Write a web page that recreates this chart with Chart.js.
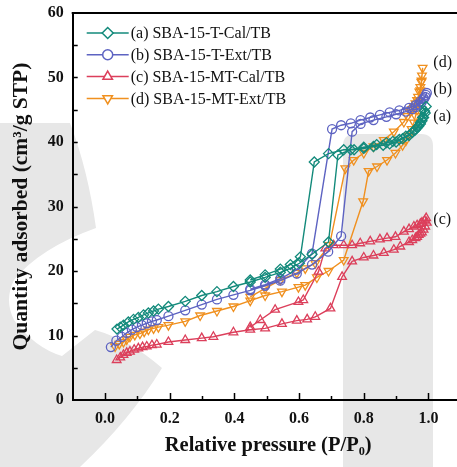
<!DOCTYPE html>
<html><head><meta charset="utf-8">
<script src="https://cdn.jsdelivr.net/npm/chart.js@4.4.1/dist/chart.umd.min.js"></script>
<style>
html,body{margin:0;padding:0;background:#fff;overflow:hidden;width:457px;height:467px}
#c{position:absolute;left:0;top:0}
</style>
</head><body><canvas id="c" width="470" height="467"></canvas>
<script>
// ---- data (P/P0, quantity adsorbed) ; adsorption branch then desorption branch ----
const seriesLabels = ['(a) SBA-15-T-Cal/TB','(b) SBA-15-T-Ext/TB','(c) SBA-15-MT-Cal/TB','(d) SBA-15-MT-Ext/TB'];
const endLabels = ['(a)','(b)','(c)','(d)'];

const pA = [0.037,0.047,0.057,0.072,0.088,0.103,0.119,0.134,0.150,0.165,0.196,0.248,0.299,0.346,0.397,0.449,0.495,0.542,0.573,0.601,0.640,0.691,0.720,0.760,0.800,0.840,0.870,0.890,0.910,0.930,0.950,0.958,0.965,0.970,0.975,0.980,0.985,0.990,0.993,
            0.988,0.982,0.975,0.968,0.960,0.950,0.940,0.920,0.900,0.880,0.860,0.830,0.800,0.770,0.738,0.691,0.647,0.604,0.573,0.542,0.495,0.449];
const vA = [11.0,11.3,11.6,12.1,12.5,12.8,13.2,13.5,13.8,14.1,14.5,15.3,16.2,16.8,17.6,18.3,19.0,19.8,20.4,21.2,22.6,24.5,38.0,38.8,39.2,39.6,39.9,40.1,40.4,40.9,41.5,41.8,42.2,42.5,42.8,43.3,43.8,44.5,45.5,
            44.8,43.8,43.0,42.4,42.0,41.5,41.0,40.5,40.0,39.7,39.5,39.3,39.0,38.8,38.8,38.2,36.9,22.2,21.0,20.3,19.4,18.6];

const pB = [0.018,0.035,0.052,0.067,0.083,0.098,0.114,0.129,0.145,0.160,0.196,0.248,0.299,0.346,0.397,0.449,0.495,0.542,0.593,0.640,0.690,0.730,0.764,0.790,0.830,0.870,0.900,0.930,0.950,0.960,0.970,0.978,0.985,0.990,0.995,
            0.992,0.985,0.975,0.960,0.940,0.910,0.880,0.850,0.820,0.790,0.760,0.730,0.702,0.640,0.593,0.542,0.495,0.449];
const vB = [8.2,9.2,9.8,10.4,10.9,11.3,11.6,11.9,12.2,12.4,13.0,13.9,14.8,15.6,16.3,17.0,17.7,18.5,19.6,21.0,23.0,25.4,41.6,42.8,43.4,43.9,44.3,44.7,45.1,45.4,45.8,46.1,46.6,47.0,47.6,
            47.3,46.8,46.3,45.7,45.3,44.9,44.6,44.2,43.8,43.4,42.9,42.6,42.0,22.7,20.2,18.8,17.9,17.2];

const pC = [0.036,0.047,0.057,0.067,0.077,0.090,0.103,0.116,0.129,0.145,0.160,0.196,0.248,0.299,0.335,0.397,0.449,0.495,0.547,0.593,0.625,0.650,0.697,0.733,0.764,0.800,0.830,0.862,0.893,0.913,0.940,0.950,0.960,0.965,0.970,0.975,0.980,0.985,0.990,0.995,
            0.993,0.988,0.980,0.975,0.965,0.955,0.940,0.924,0.898,0.872,0.850,0.820,0.789,0.764,0.738,0.707,0.681,0.660,0.613,0.598,0.526,0.480,0.449];
const vC = [6.2,6.6,7.0,7.3,7.5,7.8,8.0,8.2,8.3,8.5,8.6,9.0,9.3,9.6,9.8,10.5,10.9,11.1,11.8,12.3,12.5,12.9,14.2,19.1,21.5,22.1,22.4,22.8,23.3,23.8,24.5,24.8,25.1,25.3,25.6,25.8,26.0,26.4,26.9,27.5,
            28.2,27.8,27.5,27.3,27.1,26.9,26.5,26.1,25.3,25.1,24.9,24.6,24.3,24.0,24.0,24.0,23.5,19.9,15.5,15.2,14.0,12.4,11.3];

const pD = [0.031,0.044,0.057,0.067,0.077,0.092,0.108,0.121,0.134,0.150,0.165,0.196,0.248,0.294,0.346,0.397,0.449,0.495,0.547,0.598,0.619,0.655,0.691,0.738,0.798,0.815,0.841,0.872,0.898,0.920,0.930,0.940,0.948,0.955,0.960,0.965,0.970,0.975,0.979,0.982,
            0.980,0.978,0.975,0.972,0.968,0.965,0.960,0.955,0.950,0.944,0.935,0.924,0.893,0.862,0.830,0.800,0.769,0.743,0.694,0.650,0.619,0.593,0.542,0.495,0.449];
const vD = [8.3,8.7,9.0,9.4,9.8,10.1,10.3,10.6,10.9,11.1,11.3,11.6,12.2,13.1,13.8,14.5,15.4,16.2,16.8,17.5,17.8,19.0,20.0,21.7,30.8,35.5,36.2,37.2,38.3,39.5,40.2,41.0,42.0,43.0,44.0,45.0,46.3,48.0,49.5,51.5,
            50.3,49.3,48.5,47.8,47.0,46.5,46.0,45.5,45.1,44.7,44.0,43.1,41.6,40.3,39.3,38.3,37.2,35.9,24.0,21.2,20.4,19.7,18.6,17.3,16.0];

const xTickValues = [0.0,0.2,0.4,0.6,0.8,1.0];
const yTickValues = [0,10,20,30,40,50,60];

// ---- styles ----
const colors = ['#138a7b','#5d63c2','#dc3f5b','#f0901f'];
const styles = ['rectRot','circle','triangle','triangle'];
const rotations = [0,0,0,180];
const radii = [5,4.5,5,5];
const labelDy = [10,-3,-3,-5];
const serif = "'Liberation Serif','Times New Roman',serif";

const pts = (p,v) => p.map((x,i)=>({x:x,y:v[i]}));
const allP = [pA,pB,pC,pD], allV = [vA,vB,vC,vD];

const datasets = allP.map((p,i)=>({
  label: seriesLabels[i],
  data: pts(p, allV[i]),
  showLine: true,
  borderColor: colors[i],
  backgroundColor: 'rgba(0,0,0,0)',
  borderWidth: 1.4,
  pointStyle: styles[i],
  pointRotation: rotations[i],
  pointRadius: radii[i],
  pointBorderWidth: 1.3,
  pointBorderColor: colors[i],
  pointBackgroundColor: 'rgba(0,0,0,0)',
  tension: 0
}));

// faint watermark shapes behind the chart (decoration of the source image)
const watermark = {
  id:'watermark',
  beforeDraw(chart){
    const ctx = chart.ctx;
    ctx.save();
    ctx.fillStyle = '#e7e7e7';
    // right rounded bar
    const x0=343,y0=134,w=90,h=340,r=12;
    ctx.beginPath();
    ctx.moveTo(x0+r,y0);ctx.lineTo(x0+w-r,y0);ctx.quadraticCurveTo(x0+w,y0,x0+w,y0+r);
    ctx.lineTo(x0+w,y0+h);ctx.lineTo(x0,y0+h);ctx.lineTo(x0,y0+r);ctx.quadraticCurveTo(x0,y0,x0+r,y0);
    ctx.fill();
    // left shape with white notch
    ctx.beginPath();
    ctx.moveTo(0,123);
    ctx.lineTo(70,123);
    ctx.quadraticCurveTo(88,170,96,228);
    ctx.quadraticCurveTo(40,248,14,280);
    ctx.quadraticCurveTo(4,300,14,320);
    ctx.quadraticCurveTo(35,348,62,356);
    ctx.lineTo(95,330);
    ctx.quadraticCurveTo(130,340,162,368);
    ctx.quadraticCurveTo(130,420,80,467);
    ctx.lineTo(0,467);
    ctx.closePath();
    ctx.fill();
    ctx.restore();
  }
};

// inward ticks, top frame, legend, end labels
const extras = {
  id:'extras',
  afterDraw(chart){
    const ctx = chart.ctx, xs = chart.scales.x, ys = chart.scales.y, ca = chart.chartArea;
    ctx.save();
    ctx.strokeStyle = '#000'; ctx.lineWidth = 1.5;
    ctx.beginPath();
    for (let v=0; v<=10; v++){
      const px = Math.round(xs.getPixelForValue(v/10))+0.5;
      const len = (v%2===0)?7:4;
      ctx.moveTo(px, ca.bottom); ctx.lineTo(px, ca.bottom-len);
    }
    for (let v=5; v<60; v+=5){
      const py = Math.round(ys.getPixelForValue(v))+0.5;
      ctx.moveTo(ca.left, py); ctx.lineTo(ca.left+5, py);
    }
    ctx.stroke();
    // top frame
    ctx.lineWidth = 2;
    ctx.beginPath(); ctx.moveTo(ca.left-1, ca.top); ctx.lineTo(ca.right, ca.top); ctx.stroke();

    // legend
    ctx.font = "16px " + serif;
    ctx.textBaseline = 'middle'; ctx.textAlign = 'left';
    chart.data.datasets.forEach((ds,i)=>{
      const y = ca.top + 20 + i*21.8;
      const x0 = ca.left + 14, x1 = ca.left + 56;
      ctx.strokeStyle = ds.borderColor; ctx.lineWidth = 1.5;
      ctx.beginPath(); ctx.moveTo(x0,y); ctx.lineTo(x1,y); ctx.stroke();
      ctx.fillStyle = '#fff';
      Chart.helpers.drawPoint(ctx, {pointStyle: ds.pointStyle, rotation: ds.pointRotation, radius: ds.pointRadius+0.5, borderWidth: 1.4}, (x0+x1)/2, y);
      ctx.fillStyle = '#111';
      ctx.fillText(ds.label, x1+2, y+1);
    });
    // end labels anchored to the highest-P adsorption point
    allP.forEach((p,i)=>{
      let k = 0; p.forEach((v,j)=>{ if (v>p[k]) k=j; });
      const ay = ys.getPixelForValue(allV[i][k]);
      ctx.fillStyle = '#111';
      ctx.fillText(endLabels[i], xs.getPixelForValue(1.015), ay + labelDy[i]);
    });
    ctx.restore();
  }
};

new Chart(document.getElementById('c'), {
  type: 'scatter',
  data: { datasets },
  plugins: [watermark, extras],
  options: {
    animation: false,
    responsive: false,
    maintainAspectRatio: false,
    layout: { padding: { top: 13, right: 0, left: 0, bottom: 0 } },
    plugins: { legend: { display: false }, tooltip: { enabled: false } },
    scales: {
      x: {
        type: 'linear', min: -0.1, max: 1.109,
        afterBuildTicks: s => { s.ticks = xTickValues.map(v => ({ value: v })); },
        afterFit: s => { s.height = 67; s.paddingLeft = 0; s.paddingRight = 0; },
        ticks: { callback: v => Number(v).toFixed(1), font: { family: serif, size: 16, weight: 'bold' }, color: '#111', padding: 9, maxRotation: 0, autoSkip: false },
        grid: { display: true, drawOnChartArea: false, drawTicks: false },
        border: { display: true, color: '#000', width: 2 },
        title: { display: true, text: 'Relative pressure (P/P\u2080)', font: { family: serif, size: 20.5, weight: 'bold' }, color: '#111', padding: { top: 0, bottom: 9 } }
      },
      y: {
        type: 'linear', min: 0, max: 60,
        afterBuildTicks: s => { s.ticks = yTickValues.map(v => ({ value: v })); },
        afterFit: s => { s.width = 72.7; s.paddingTop = 0; s.paddingBottom = 0; },
        ticks: { font: { family: serif, size: 16, weight: 'bold' }, color: '#111', padding: 9, autoSkip: false },
        grid: { display: true, drawOnChartArea: false, drawTicks: false },
        border: { display: true, color: '#000', width: 2 },
        title: { display: true, text: 'Quantity adsorbed (cm\u00B3/g STP)', font: { family: serif, size: 21.5, weight: 'bold' }, color: '#111', padding: { top: 9, bottom: 0 } }
      }
    }
  }
});
</script>
</body></html>
